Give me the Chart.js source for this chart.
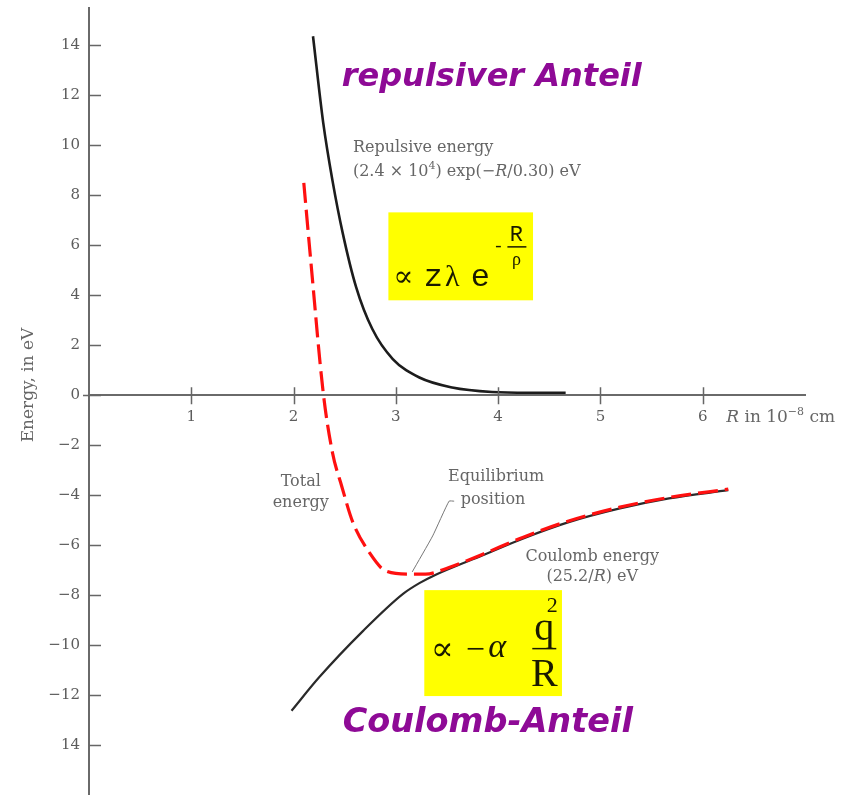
<!DOCTYPE html>
<html>
<head>
<meta charset="utf-8">
<script src="https://cdn.jsdelivr.net/npm/chart.js@4.4.1/dist/chart.umd.min.js"></script>
<style>
  body { margin: 0; background: #fff; }
  canvas { display: block; }
</style>
</head>
<body>
<canvas id="canvas" width="850" height="795"></canvas>
<script>
// ion pair energy vs separation R (in 10^-8 cm), energies in eV
const repulsiveR = [2.19, 2.29, 2.38, 2.48, 2.61, 2.77, 2.97, 3.23, 3.55, 3.94, 4.30, 4.66];
const repulsiveE = [14.37, 10.9, 8.6, 6.5, 4.35, 2.65, 1.45, 0.71, 0.31, 0.13, 0.10, 0.10];

const totalR = [2.10, 2.17, 2.29, 2.38, 2.47, 2.58, 2.74, 2.90, 3.13, 3.29, 3.52, 3.85, 4.24, 4.69, 5.18, 5.67, 6.25];
const totalE = [8.5, 5.3, 0.1, -2.29, -3.63, -5.09, -6.29, -7.03, -7.16, -7.16, -6.89, -6.36, -5.69, -5.03, -4.49, -4.09, -3.76];

const coulombR = [1.98, 2.25, 2.68, 3.07, 3.23, 3.39, 3.85, 4.24, 4.69, 5.18, 5.67, 6.25];
const coulombE = [-12.63, -11.29, -9.43, -7.95, -7.52, -7.18, -6.40, -5.74, -5.08, -4.54, -4.13, -3.80];

// pointer from the "Equilibrium position" note down to the minimum
const pointerR = [3.57, 3.52, 3.36, 3.16];
const pointerE = [-4.24, -4.24, -5.63, -7.07];

const xTicks = [1, 2, 3, 4, 5, 6];
const yTicks = [-14, -12, -10, -8, -6, -4, -2, 0, 2, 4, 6, 8, 10, 12, 14];
const yTickLabels = ['14', '−12', '−10', '−8', '−6', '−4', '−2', '0', '2', '4', '6', '8', '10', '12', '14'];

function toPoints(xs, ys) {
    return xs.map(function (x, i) { return { x: x, y: ys[i] }; });
}

const SERIF = '16px "DejaVu Serif"';
const SERIF_I = 'italic 16px "DejaVu Serif"';
const SERIF_SM = '11px "DejaVu Serif"';
const GREY = '#666666';
const PURPLE = '#8e0a96';

// text runs: [text, font, baseline shift]
function runsWidth(ctx, runs) {
    let w = 0;
    runs.forEach(function (r) { ctx.font = r[1]; w += ctx.measureText(r[0]).width; });
    return w;
}
function drawRuns(ctx, runs, x, y, align) {
    if (align === 'center') x -= runsWidth(ctx, runs) / 2;
    ctx.textAlign = 'left';
    runs.forEach(function (r) {
        ctx.font = r[1];
        ctx.fillText(r[0], x, y + (r[2] || 0));
        x += ctx.measureText(r[0]).width;
    });
}

const notes = [
    { x: 2.58, y: 9.72, align: 'left', runs: [['Repulsive energy', SERIF]] },
    { x: 2.58, y: 8.76, align: 'left', runs: [['(2.4 × 10', SERIF], ['4', SERIF_SM, -7], [') exp(−', SERIF], ['R', SERIF_I], ['/0.30) eV', SERIF]] },
    { x: 2.07, y: -3.64, align: 'center', runs: [['Total', SERIF]] },
    { x: 2.07, y: -4.48, align: 'center', runs: [['energy', SERIF]] },
    { x: 3.98, y: -3.44, align: 'center', runs: [['Equilibrium', SERIF]] },
    { x: 3.95, y: -4.36, align: 'center', runs: [['position', SERIF]] },
    { x: 4.92, y: -6.64, align: 'center', runs: [['Coulomb energy', SERIF]] },
    { x: 4.92, y: -7.44, align: 'center', runs: [['(25.2/', SERIF], ['R', SERIF_I], [') eV', SERIF]] },
    { x: 6.23, y: -1.08, align: 'left', runs: [['R', 'italic 17px "DejaVu Serif"'], [' in 10', '17px "DejaVu Serif"'], ['−8', SERIF_SM, -7], [' cm', '17px "DejaVu Serif"']] }
];

const overlayPlugin = {
    id: 'overlay',
    beforeDatasetsDraw: function (chart) {
        const ctx = chart.ctx, sx = chart.scales.x, sy = chart.scales.y;
        ctx.save();
        ctx.fillStyle = '#ffff00';
        // formula boxes
        [[2.927, 7.32, 4.341, 3.8], [3.278, -7.8, 4.624, -12.04]].forEach(function (b) {
            const x0 = sx.getPixelForValue(b[0]), y0 = sy.getPixelForValue(b[1]);
            ctx.fillRect(x0, y0, sx.getPixelForValue(b[2]) - x0, sy.getPixelForValue(b[3]) - y0);
        });
        ctx.restore();
    },
    afterDraw: function (chart) {
        const ctx = chart.ctx, sx = chart.scales.x, sy = chart.scales.y;
        const left = chart.chartArea.left, y0 = sy.getPixelForValue(0);
        ctx.save();

        // tick marks
        ctx.strokeStyle = '#666';
        ctx.lineWidth = 1.5;
        ctx.beginPath();
        yTicks.forEach(function (v) {
            const y = Math.round(sy.getPixelForValue(v)) + 0.5;
            ctx.moveTo(left, y);
            ctx.lineTo(left + 12, y);
        });
        ctx.moveTo(left - 6, Math.round(y0) + 0.5);
        ctx.lineTo(left, Math.round(y0) + 0.5);
        xTicks.forEach(function (v) {
            const x = Math.round(sx.getPixelForValue(v)) + 0.5;
            ctx.moveTo(x, y0 - 8);
            ctx.lineTo(x, y0 + 9);
        });
        ctx.stroke();

        // axis title
        ctx.fillStyle = GREY;
        ctx.save();
        ctx.translate(29, 385);
        ctx.rotate(-Math.PI / 2);
        ctx.font = '17px "DejaVu Serif"';
        ctx.textAlign = 'center';
        ctx.textBaseline = 'middle';
        ctx.fillText('Energy, in eV', 0, 0);
        ctx.restore();

        // curve notes
        ctx.textBaseline = 'alphabetic';
        notes.forEach(function (n) {
            drawRuns(ctx, n.runs, sx.getPixelForValue(n.x), sy.getPixelForValue(n.y), n.align);
        });

        // formulas in the yellow boxes
        ctx.fillStyle = '#1a1a00';
        ctx.textAlign = 'center';
        const b1x = sx.getPixelForValue(2.927), b1y = sy.getPixelForValue(7.32);
        ctx.font = '30px "DejaVu Serif"';
        ctx.fillText('∝', b1x + 15, b1y + 74);
        ctx.font = '32px "Liberation Mono"';
        ctx.fillText('z', b1x + 45, b1y + 74);
        ctx.font = '30px "Liberation Serif"';
        ctx.fillText('λ', b1x + 64, b1y + 74);
        ctx.font = '32px "Liberation Mono"';
        ctx.fillText('e', b1x + 92, b1y + 74);
        ctx.font = '18px "Liberation Mono"';
        ctx.fillText('-', b1x + 110, b1y + 40);
        ctx.font = '22px "Liberation Mono"';
        ctx.fillText('R', b1x + 128, b1y + 29);
        ctx.font = '18px "Liberation Serif"';
        ctx.fillText('ρ', b1x + 128, b1y + 53);
        ctx.lineWidth = 1.5;
        ctx.strokeStyle = '#1a1a00';
        ctx.beginPath();
        ctx.moveTo(b1x + 119, b1y + 34.5);
        ctx.lineTo(b1x + 138, b1y + 34.5);
        ctx.stroke();

        const b2x = sx.getPixelForValue(3.278), b2y = sy.getPixelForValue(-7.8);
        ctx.font = '34px "DejaVu Serif"';
        ctx.fillText('∝', b2x + 18, b2y + 70);
        ctx.font = '34px "Liberation Serif"';
        ctx.fillText('−', b2x + 51, b2y + 70);
        ctx.font = 'italic 34px "Liberation Serif"';
        ctx.fillText('α', b2x + 73, b2y + 67);
        ctx.font = '40px "Liberation Serif"';
        ctx.fillText('q', b2x + 120, b2y + 50);
        ctx.fillText('R', b2x + 120, b2y + 96);
        ctx.font = '22px "Liberation Serif"';
        ctx.fillText('2', b2x + 128, b2y + 22);
        ctx.beginPath();
        ctx.moveTo(b2x + 108, b2y + 58.5);
        ctx.lineTo(b2x + 132, b2y + 58.5);
        ctx.stroke();

        // German headings
        ctx.fillStyle = PURPLE;
        ctx.textAlign = 'left';
        ctx.font = 'bold italic 32px "DejaVu Sans"';
        ctx.fillText('repulsiver Anteil', sx.getPixelForValue(2.47), sy.getPixelForValue(12.36));
        ctx.font = 'bold italic 33.5px "DejaVu Sans"';
        ctx.fillText('Coulomb-Anteil', sx.getPixelForValue(2.48), sy.getPixelForValue(-13.48));
        ctx.restore();
    }
};

const ctx = document.getElementById('canvas').getContext('2d');
const myChart = new Chart(ctx, {
    type: 'scatter',
    data: {
        datasets: [
            {
                label: 'Total energy',
                data: toPoints(totalR, totalE),
                showLine: true,
                borderColor: '#ff1010',
                borderWidth: 3.2,
                borderDash: [20, 7],
                cubicInterpolationMode: 'monotone',
                pointRadius: 0,
                order: 0
            },
            {
                label: 'Repulsive energy',
                data: toPoints(repulsiveR, repulsiveE),
                showLine: true,
                borderColor: '#1c1c1c',
                borderWidth: 2.6,
                cubicInterpolationMode: 'monotone',
                pointRadius: 0,
                order: 1
            },
            {
                label: 'Coulomb energy',
                data: toPoints(coulombR, coulombE),
                showLine: true,
                borderColor: '#2a2a2a',
                borderWidth: 2.2,
                cubicInterpolationMode: 'monotone',
                pointRadius: 0,
                order: 2
            },
            {
                label: 'pointer',
                data: toPoints(pointerR, pointerE),
                showLine: true,
                borderColor: '#777',
                borderWidth: 1,
                tension: 0.15,
                pointRadius: 0,
                order: 3
            }
        ]
    },
    options: {
        responsive: false,
        animation: false,
        layout: { padding: { top: 8, right: 45, left: 0, bottom: 0 } },
        plugins: {
            legend: { display: false },
            tooltip: { enabled: false }
        },
        scales: {
            x: {
                type: 'linear',
                position: { y: 0 },
                min: 0,
                max: 7,
                afterFit: function (scale) {
                    scale.height = 0;
                    scale.paddingLeft = 0;
                    scale.paddingRight = 0;
                },
                afterBuildTicks: function (scale) {
                    scale.ticks = xTicks.map(function (v) { return { value: v }; });
                },
                grid: { display: false, drawTicks: false },
                border: { display: true, color: '#6a6a6a', width: 2 },
                ticks: {
                    padding: 13,
                    color: '#5c5c5c',
                    font: { family: 'DejaVu Serif', size: 15 },
                    callback: function (v) { return String(v); }
                }
            },
            y: {
                type: 'linear',
                position: 'left',
                min: -16,
                max: 15.5,
                afterFit: function (scale) {
                    scale.width = 89;
                    scale.paddingTop = 0;
                    scale.paddingBottom = 0;
                },
                afterBuildTicks: function (scale) {
                    scale.ticks = yTicks.map(function (v) { return { value: v }; });
                },
                grid: { display: false, drawTicks: false },
                border: { display: true, color: '#6a6a6a', width: 2 },
                ticks: {
                    padding: 9,
                    color: '#5c5c5c',
                    font: { family: 'DejaVu Serif', size: 15 },
                    callback: function (v) { return yTickLabels[yTicks.indexOf(v)]; }
                }
            }
        }
    },
    plugins: [overlayPlugin]
});
</script>
</body>
</html>
